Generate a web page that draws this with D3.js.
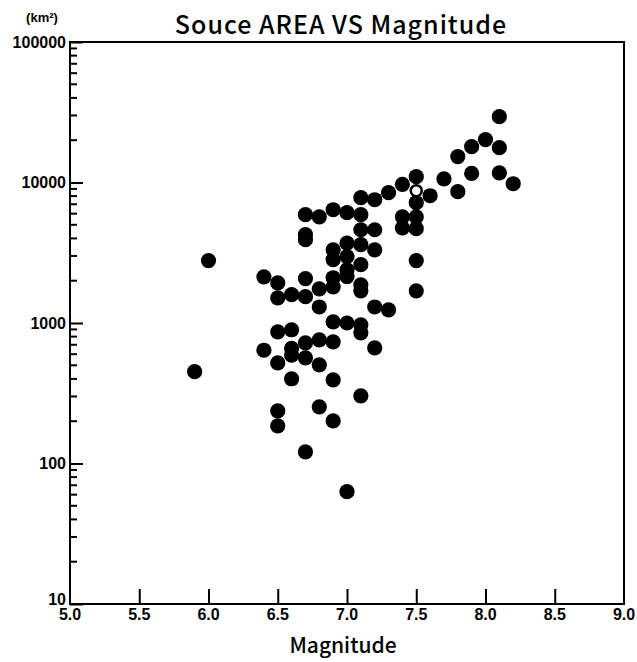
<!DOCTYPE html>
<html>
<head>
<meta charset="utf-8">
<script src="https://cdn.jsdelivr.net/npm/d3@7"></script>
<style>
  body { margin: 0; background: #fff; }
  text { fill: #000; }
</style>
</head>
<body>
<div class="core_div"></div>
<script>

// Magnitude / source area (km2)
var magnitude = [
  5.9, 6.0,
  6.4, 6.4,
  6.5, 6.5, 6.5, 6.5, 6.5, 6.5,
  6.6, 6.6, 6.6, 6.6, 6.6,
  6.7, 6.7, 6.7, 6.7, 6.7, 6.7, 6.7, 6.7,
  6.8, 6.8, 6.8, 6.8, 6.8, 6.8,
  6.9, 6.9, 6.9, 6.9, 6.9, 6.9, 6.9, 6.9, 6.9,
  7.0, 7.0, 7.0, 7.0, 7.0, 7.0, 7.0,
  7.1, 7.1, 7.1, 7.1, 7.1, 7.1, 7.1, 7.1, 7.1, 7.1,
  7.2, 7.2, 7.2, 7.2, 7.2,
  7.3, 7.3,
  7.4, 7.4, 7.4,
  7.5, 7.5, 7.5, 7.5, 7.5, 7.5,
  7.6, 7.7, 7.8, 7.8, 7.9, 7.9, 8.0,
  8.1, 8.1, 8.1, 8.2
];
var area = [
  450, 2780,
  2130, 640,
  1930, 1510, 865, 520, 237, 185,
  1590, 895, 660, 590, 401,
  2070, 1540, 723, 565, 5900, 4250, 3920, 121,
  1750, 1300, 759, 504, 5700, 253,
  2100, 1810, 3320, 2820, 1020, 735, 394, 201, 6400,
  2140, 2390, 2970, 3700, 1000, 6100, 63,
  7800, 5900, 4610, 3610, 2600, 1870, 1695, 970, 851, 303,
  7540, 4610, 3320, 1300, 665,
  8460, 1240,
  9700, 5700, 4760,
  11000, 7180, 5700, 4690, 2780, 1695,
  8050, 10600, 15300, 8600, 18000, 11600, 20200,
  29400, 17700, 11700, 9800
];
// the one open circle
var openMag = [7.5];
var openArea = [8750];

var xTicks = [5.0, 5.5, 6.0, 6.5, 7.0, 7.5, 8.0, 8.5, 9.0];
var yTicks = [10, 100, 1000, 10000, 100000];

var W = 637, H = 662;
var margin = {left: 70, right: 624, top: 42, bottom: 604};
var FONT = "'Liberation Sans Narrow', 'Liberation Sans', sans-serif";
var TFONT = "'Noto Sans CJK JP', 'Noto Sans', sans-serif";

var svg = d3.select(".core_div").append("svg")
    .attr("width", W)
    .attr("height", H);

var x = d3.scaleLinear().domain([5, 9]).range([margin.left, margin.right]);
var y = d3.scaleLog().domain([10, 100000]).range([margin.bottom, margin.top]);

// minor ticks 2..9 in each decade
var minor = [];
[10, 100, 1000, 10000].forEach(function(d) {
  for (var k = 2; k <= 9; k++) minor.push(d * k);
});

// y axis (ticks point inward)
var yAxis = d3.axisRight(y)
    .tickValues(yTicks)
    .tickSize(13)
    .tickFormat("");
var gy = svg.append("g")
    .attr("transform", "translate(" + margin.left + ",0)")
    .call(yAxis);
gy.selectAll("line").attr("stroke", "#000").attr("stroke-width", 2);
gy.select(".domain").remove();

svg.append("g").selectAll("line.minor")
    .data(minor)
  .enter().append("line")
    .attr("x1", margin.left).attr("x2", margin.left + 7)
    .attr("y1", function(d) { return y(d); })
    .attr("y2", function(d) { return y(d); })
    .attr("stroke", "#000").attr("stroke-width", 2);

// "10" sits a little higher so it clears the "5.0" below it
svg.append("g").selectAll("text")
    .data(yTicks)
  .enter().append("text")
    .attr("x", margin.left - 4)
    .attr("y", function(d) { return d === 10 ? y(d) - 5 : y(d); })
    .attr("dy", "0.36em")
    .attr("text-anchor", "end")
    .style("font-family", FONT)
    .style("font-weight", "bold")
    .style("font-size", "16px")
    .text(function(d) { return d; });

// x axis (ticks point up)
var xAxis = d3.axisTop(x)
    .tickValues(xTicks.slice(1, -1))
    .tickSize(15)
    .tickFormat("");
var gx = svg.append("g")
    .attr("transform", "translate(0," + margin.bottom + ")")
    .call(xAxis);
gx.selectAll("line").attr("stroke", "#000").attr("stroke-width", 2);
gx.select(".domain").remove();

svg.append("g").selectAll("text")
    .data(xTicks)
  .enter().append("text")
    .attr("x", function(d) { return x(d); })
    .attr("y", margin.bottom + 16)
    .attr("text-anchor", "middle")
    .style("font-family", FONT)
    .style("font-weight", "bold")
    .style("font-size", "16px")
    .text(function(d) { return d.toFixed(1); });

// frame
svg.append("rect")
    .attr("x", margin.left).attr("y", margin.top)
    .attr("width", margin.right - margin.left)
    .attr("height", margin.bottom - margin.top)
    .attr("fill", "none")
    .attr("stroke", "#000")
    .attr("stroke-width", 2);

// points
var pts = magnitude.map(function(m, i) { return {m: m, a: area[i]}; });
svg.append("g").selectAll("circle")
    .data(pts)
  .enter().append("circle")
    .attr("cx", function(d) { return x(d.m); })
    .attr("cy", function(d) { return y(d.a); })
    .attr("r", 7.6)
    .attr("fill", "#000");

svg.append("g").selectAll("circle")
    .data(openMag.map(function(m, i) { return {m: m, a: openArea[i]}; }))
  .enter().append("circle")
    .attr("cx", function(d) { return x(d.m); })
    .attr("cy", function(d) { return y(d.a); })
    .attr("r", 5.5)
    .attr("fill", "#fff")
    .attr("stroke", "#000")
    .attr("stroke-width", 2.5);

// titles
svg.append("text")
    .attr("x", 341).attr("y", 34)
    .attr("text-anchor", "middle")
    .style("font-family", TFONT)
    .style("font-weight", "500")
    .style("font-size", "25px")
    .style("letter-spacing", "1px")
    .text("Souce AREA VS Magnitude");

svg.append("text")
    .attr("x", 42).attr("y", 22)
    .attr("text-anchor", "middle")
    .style("font-family", FONT)
    .style("font-weight", "bold")
    .style("font-size", "13px")
    .text("(km²)");

svg.append("text")
    .attr("x", 343).attr("y", 653)
    .attr("text-anchor", "middle")
    .style("font-family", TFONT)
    .style("font-weight", "500")
    .style("font-size", "21px")
    .text("Magnitude");

</script>
</body>
</html>
